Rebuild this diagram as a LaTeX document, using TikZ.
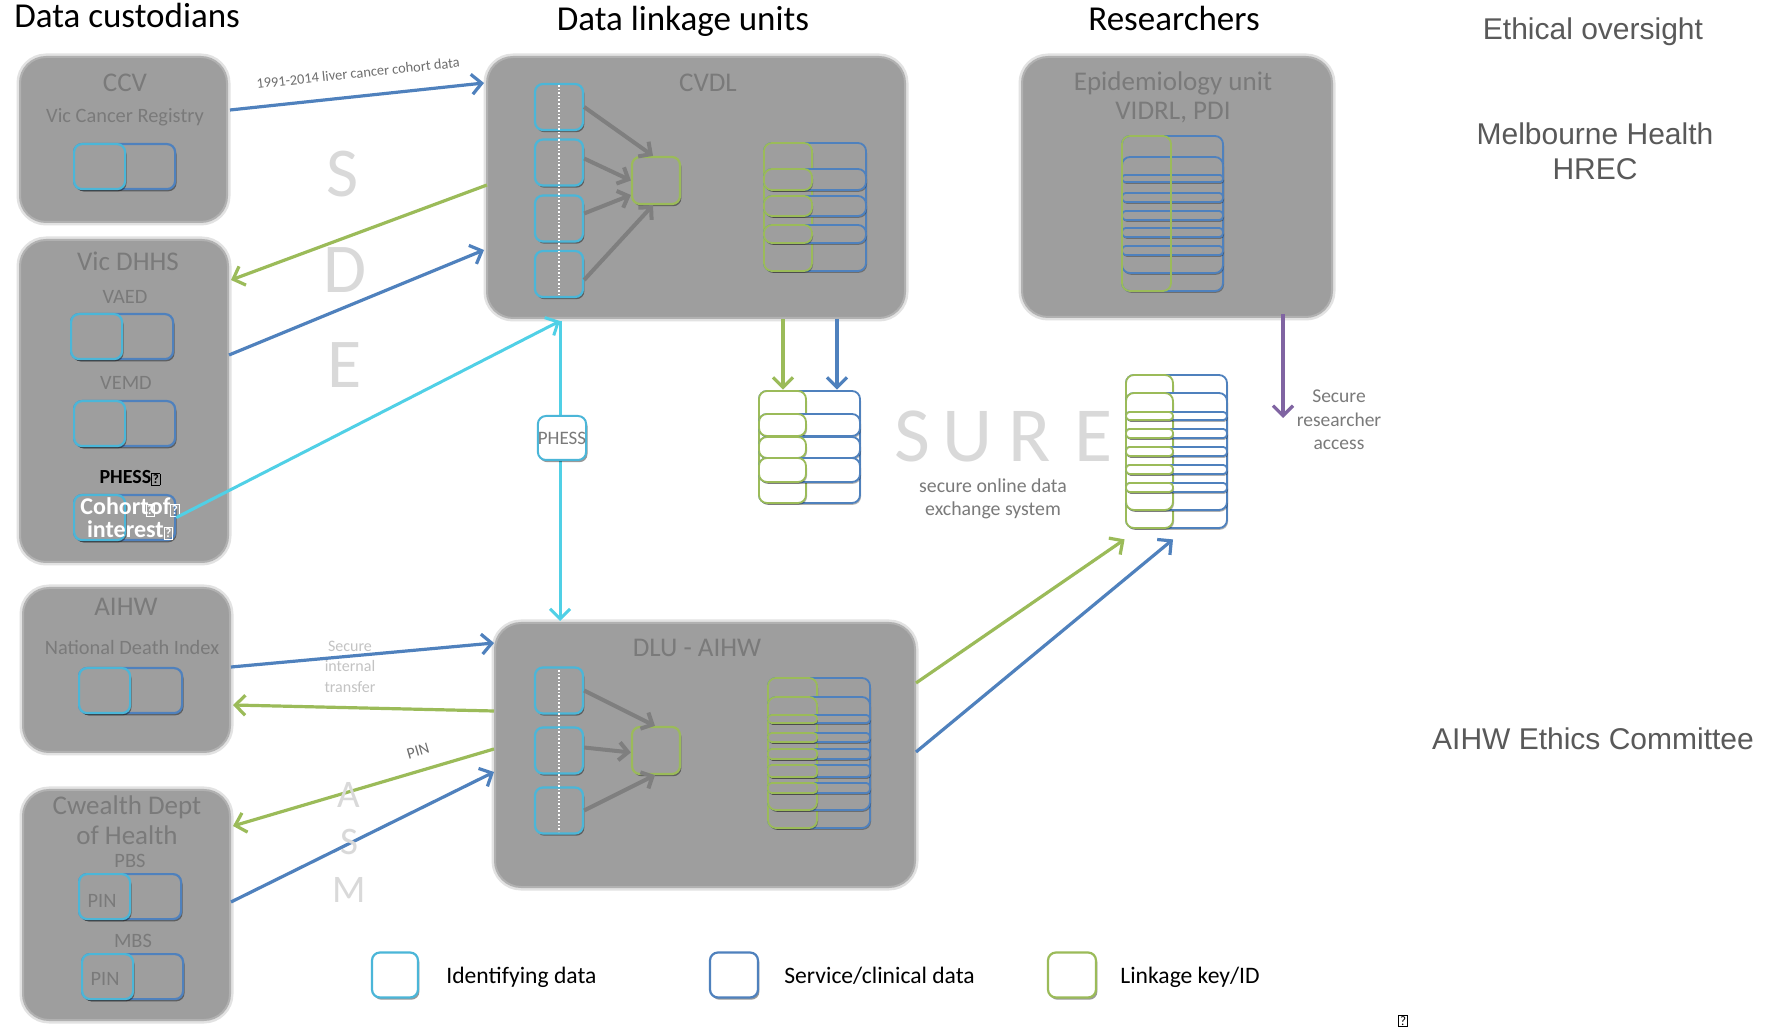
\documentclass[tikz,border=0pt]{standalone}
\usepackage{fontspec}
\setmainfont{Carlito}
\newfontfamily\arialf{Liberation Sans}
\usepackage{graphicx}
\usetikzlibrary{arrows.meta,shadows,calc}

\definecolor{boxgray}{HTML}{9E9E9E}
\definecolor{titlegray}{HTML}{7A7A7A}
\definecolor{cyanb}{HTML}{4BB6D8}
\definecolor{cyanl}{HTML}{50D0E6}
\definecolor{blueb}{HTML}{4F81BD}
\definecolor{greenb}{HTML}{9BBB59}
\definecolor{purpleb}{HTML}{8064A2}
\definecolor{lettergray}{HTML}{D9D9D9}
\definecolor{arrowgray}{HTML}{7F7F7F}
\definecolor{ethgray}{HTML}{595959}
\definecolor{lblgray}{HTML}{6E6E6E}
\definecolor{faintgray}{HTML}{C3C3C3}

\newcommand\fsz[2]{\fontsize{#1}{#2}\selectfont}
\newcommand\qbx{{\setlength\fboxsep{0.4pt}\setlength\fboxrule{0.4pt}\fbox{\fontsize{6.5}{7}\selectfont ?}}}

\tikzset{
 graybox/.style={rounded corners=13pt, fill=boxgray, draw=boxgray!80!white, line width=1pt, inner sep=0pt,
   preaction={draw=boxgray!30!white, line width=3.5pt}},
 shad/.style={drop shadow={shadow xshift=0.7pt, shadow yshift=-1.1pt, opacity=0.4, fill=black}},
 recblue/.style={draw=blueb, line width=1.1pt, fill=boxgray, rounded corners=4pt, inner sep=0pt, shad, anchor=north west, minimum height=22.5pt},
 reccyan/.style={draw=cyanb, line width=1.1pt, fill=boxgray, rounded corners=4pt, inner sep=0pt, shad, anchor=north west, minimum height=22.5pt, minimum width=25.5pt},
 idbox/.style={draw=cyanb, line width=1.1pt, fill=boxgray, rounded corners=4pt, inner sep=0pt, shad, minimum width=24pt, minimum height=23pt},
 keybox/.style={draw=greenb, line width=1.1pt, fill=boxgray, rounded corners=4pt, inner sep=0pt, shad, minimum width=24pt, minimum height=23.5pt},
 legbox/.style={line width=1.1pt, fill=white, rounded corners=4pt, inner sep=0pt, shad, minimum width=24pt, minimum height=22.5pt},
 tblue/.style={draw=blueb, line width=0.9pt, fill=#1, drop shadow={shadow xshift=0.5pt, shadow yshift=-0.9pt, opacity=0.3, fill=black}},
 tgreen/.style={draw=greenb, line width=0.9pt, fill=#1, drop shadow={shadow xshift=0.5pt, shadow yshift=-0.9pt, opacity=0.3, fill=black}},
 barrow/.style={draw=blueb, line width=1.6pt, -{Straight Barb[length=5pt,width=10pt]}},
 garrowc/.style={draw=greenb, line width=1.6pt, -{Straight Barb[length=5pt,width=10pt]}},
 carrow/.style={draw=cyanl, line width=1.5pt, -{Straight Barb[length=5pt,width=10pt]}},
 parrow/.style={draw=purpleb, line width=1.6pt, -{Straight Barb[length=5pt,width=10pt]}},
 grayarr/.style={draw=arrowgray, line width=2pt, -{Straight Barb[length=4.5pt,width=9pt]}},
 txt/.style={inner sep=0pt, anchor=base},
 ttl/.style={txt, text=titlegray, font=\fsz{13.5}{16}},
 sub/.style={txt, text=titlegray, font=\fsz{10.2}{12}},
 hdr/.style={txt, text=black, font=\fsz{17.5}{21}},
 eth/.style={txt, text=ethgray, font=\arialf\fsz{15}{18}},
 bigl/.style={txt, text=lettergray, font=\fsz{35}{40}},
 midl/.style={txt, text=lettergray, font=\fsz{19.5}{23}},
 surel/.style={txt, text=lettergray, font=\fsz{39}{44}},
}

\newcommand\datarec[4]{%
 \node[recblue, minimum width=#4] (#1) at (#2,#3) {};
 \node[reccyan] (#1c) at (#2,#3) {};}
\newcommand\trow[7]{%
 \draw[tblue=#1, rounded corners=#7] (#2,#5) rectangle (#4,#6);
 \draw[tgreen=#1, rounded corners=#7] (#2,#5) rectangle (#3,#6);}
\newcommand\brow[6]{%
 \draw[tblue=#1, rounded corners=#6] (#2,#4) rectangle (#3,#5);}

\begin{document}
\begin{tikzpicture}[x=0.5pt,y=-0.5pt]
\path[use as bounding box, fill=white] (0,0) rectangle (1779,1031);

% ---------------- gray boxes
\node[graybox, minimum width=103.5pt, minimum height=82.5pt] (ccv) at (123.5,139.5) {};
\node[graybox, minimum width=104pt, minimum height=161pt] (vic) at (124,401) {};
\node[graybox, minimum width=103.5pt, minimum height=82pt] (aihw) at (126.5,670) {};
\node[graybox, minimum width=103.5pt, minimum height=115pt] (cw) at (126.5,905) {};
\node[graybox, minimum width=209pt, minimum height=130.5pt] (cvdl) at (696,187.5) {};
\node[graybox, minimum width=210pt, minimum height=132pt] (dlu) at (705,755) {};
\node[graybox, minimum width=155pt, minimum height=130pt] (epi) at (1177,187) {};

% ---------------- titles
\node[ttl] (ccvT) at (125,92) {CCV};
\node[sub] (ccvS) at (125,123) {Vic Cancer Registry};
\node[ttl] (vicT) at (128,271) {Vic DHHS};
\node[sub] (vaedT) at (125,304) {VAED};
\node[sub] (vemdT) at (126,390) {VEMD};
\node[ttl] (cvdlT) at (708,92) {CVDL};
\node[ttl] (epiT1) at (1173,91) {Epidemiology unit};
\node[ttl] (epiT2) at (1173,120) {VIDRL, PDI};
\node[ttl] (aihwT) at (126,616) {AIHW};
\node[sub] (ndiT) at (132,655) {National Death Index};
\node[ttl] (cwT1) at (127,814) {Cwealth Dept};
\node[ttl] (cwT2) at (127,845) {of Health};
\node[sub] (pbsT) at (130,868) {PBS};
\node[sub] (mbsT) at (133,947) {MBS};
\node[ttl] (dluT) at (697,657) {DLU - AIHW};

% ---------------- records in custodian boxes
\datarec{rccv}{73}{143}{50.5pt}
\datarec{rvaed}{70}{313}{51pt}
\datarec{rvemd}{73}{400}{50.5pt}
\datarec{rcoh}{73}{494}{50.5pt}
\datarec{raihw}{78}{667}{51.5pt}
\datarec{rpbs}{78}{873}{51pt}
\datarec{rmbs}{81}{953}{50.5pt}
\node[sub] (pin1) at (102,907) {PIN};
\node[sub] (pin2) at (105,985) {PIN};
\node[txt, text=black, font=\bfseries\fsz{10}{12}] (phessL) at (130,484) {PHESS\qbx};
\node[txt, text=white, font=\bfseries\fsz{12}{14}] (cohL1) at (130,515) {Cohort\kern-1.5pt\qbx\kern-2.5pt of\qbx};
\node[txt, text=white, font=\bfseries\fsz{12}{14}] (cohL2) at (130,538) {interest\qbx};

% ---------------- CVDL content
\node[idbox] (c1) at (559,107) {};
\node[idbox] (c2) at (559,162.5) {};
\node[idbox] (c3) at (559,218.5) {};
\node[idbox] (c4) at (559,274) {};
\node[keybox] (g1) at (656,180.5) {};
\draw[white, line width=0.8pt, densely dotted] (559,85) -- (559,296);
\draw[grayarr] (c1.east) -- ($(g1.north)+(-3,0)$);
\draw[grayarr] ($(c2.east)+(0,-4)$) -- (g1.west);
\draw[grayarr] ($(c3.east)+(0,-5)$) -- ($(g1.west)+(0,14.5)$);
\draw[grayarr] ($(c4.east)+(0,6)$) -- ($(g1.south)+(-3,0)$);
\trow{boxgray}{764}{812}{866}{143}{271}{4pt}
\trow{boxgray}{764}{812}{866}{169}{190}{4pt}
\trow{boxgray}{764}{812}{866}{196}{216}{4pt}
\trow{boxgray}{764}{812}{866}{225}{243}{4pt}

% ---------------- DLU content
\node[idbox] (d1) at (559,690.5) {};
\node[idbox] (d2) at (559,750.5) {};
\node[idbox] (d3) at (559,810.5) {};
\node[keybox] (g2) at (656,750.5) {};
\draw[white, line width=0.8pt, densely dotted] (559,670) -- (559,832);
\draw[grayarr] (d1.east) -- ($(g2.north)+(-1,0)$);
\draw[grayarr] ($(d2.east)+(0,-3)$) -- ($(g2.west)+(0,2)$);
\draw[grayarr] (d3.east) -- ($(g2.south)+(-1,0)$);
\trow{boxgray}{768}{817}{870}{678}{828}{4pt}
\trow{boxgray}{768}{817}{870}{697}{810}{4pt}
\trow{boxgray}{768}{817}{870}{715}{723}{1.8pt}
\trow{boxgray}{768}{817}{870}{733}{742}{1.8pt}
\trow{boxgray}{768}{817}{870}{749}{759}{1.8pt}
\trow{boxgray}{768}{817}{870}{765}{777}{1.8pt}
\trow{boxgray}{768}{817}{870}{783}{793}{1.8pt}

% ---------------- Epi content
\brow{boxgray}{1122}{1223}{136}{291}{4pt}
\brow{boxgray}{1122}{1223}{157}{273}{4pt}
\brow{boxgray}{1122}{1223}{175}{182}{1.5pt}
\brow{boxgray}{1122}{1223}{193}{202}{1.8pt}
\brow{boxgray}{1122}{1223}{211}{220}{1.8pt}
\brow{boxgray}{1122}{1223}{228}{237}{1.8pt}
\brow{boxgray}{1122}{1223}{246}{255}{1.8pt}
\draw[greenb, line width=0.9pt, rounded corners=4pt] (1122,136) rectangle (1171,291);

% ---------------- SURE tables
\node[inner sep=0pt, minimum width=50.5pt, minimum height=56pt] (suremid) at (809.5,447) {};
\trow{white}{759}{806}{860}{391}{503}{4pt}
\trow{white}{759}{806}{860}{414}{436}{4pt}
\trow{white}{759}{806}{860}{437}{458}{4pt}
\trow{white}{759}{806}{860}{458}{482}{4pt}
\node[inner sep=0pt, minimum width=50.5pt, minimum height=76.5pt] (surer) at (1176.5,451.5) {};
\trow{white}{1126}{1173}{1227}{375}{528}{4pt}
\trow{white}{1126}{1173}{1227}{393}{510}{4pt}
\trow{white}{1126}{1173}{1227}{412}{420}{1.8pt}
\trow{white}{1126}{1173}{1227}{429}{438}{1.8pt}
\trow{white}{1126}{1173}{1227}{447}{456}{1.8pt}
\trow{white}{1126}{1173}{1227}{465}{474}{1.8pt}
\trow{white}{1126}{1173}{1227}{483}{492}{1.8pt}

% ---------------- connectors
\draw[barrow] ($(ccv.east)+(2,-29.5)$) -- ($(cvdl.west)+(-2,-104.5)$);
\draw[garrowc] ($(cvdl.west)+(1,-2.5)$) -- ($(vic.east)+(2,-121)$);
\draw[barrow] ($(vic.east)+(0,-46)$) -- ($(cvdl.west)+(-2,62.5)$);
\draw[carrow] (rcoh.east) -- ($(cvdl.south)+(-136,2)$);
\draw[carrow] ($(cvdl.south)+(-136,2)$) -- ($(dlu.north)+(-145,-1)$);
\draw[garrowc] ($(cvdl.south)+(87,0)$) -- ($(suremid.north)+(-26.5,-1)$);
\draw[barrow] ($(cvdl.south)+(141,0)$) -- ($(suremid.north)+(27.5,-1)$);
\draw[barrow] ($(aihw.east)+(0,-3)$) -- ($(dlu.west)+(0,-112)$);
\draw[garrowc] ($(dlu.west)+(0,-44)$) -- ($(aihw.east)+(2,35)$);
\draw[garrowc] ($(dlu.west)+(0,-6)$) -- ($(cw.east)+(2,-79)$);
\draw[barrow] ($(cw.east)+(0,-3)$) -- ($(dlu.west)+(0,17)$);
\draw[garrowc] ($(dlu.east)+(0,-72)$) -- ($(surer.south west)+(-1,11)$);
\draw[barrow] ($(dlu.east)+(0,-3)$) -- ($(surer.south)+(-3.5,11)$);
\coordinate (pend) at (1283,418);
\draw[parrow] ($(epi.south)+(106,-4)$) -- (pend);

% PHESS box on the cyan line
\node[draw=cyanb, line width=1pt, fill=white, rounded corners=4pt, inner sep=0pt,
      minimum width=24pt, minimum height=22pt, shad, text=titlegray, font=\fsz{9.5}{11}] (phessbox) at (562,438) {PHESS};

% ---------------- connector labels
\node[inner sep=0pt, rotate=6, text=lblgray, font=\fsz{7.2}{9}] (lbl1991) at (358,73) {1991-2014 liver cancer cohort data};
\node[txt, text=faintgray, font=\fsz{8}{10}] (sit1) at (350,652) {Secure};
\node[txt, text=faintgray, font=\fsz{8}{10}] (sit2) at (350,672) {internal};
\node[txt, text=faintgray, font=\fsz{8}{10}] (sit3) at (350,693) {transfer};
\node[inner sep=0pt, rotate=16.3, text=lblgray, font=\fsz{8}{10}] (pinlbl) at (418,751) {PIN};

% ---------------- big faint letters
\node[bigl] (bS) at (343,197) {S};
\node[bigl] (bD) at (345,293) {D};
\node[bigl] (bE) at (345,388) {E};
\node[midl] (mA) at (349,808) {A};
\node[midl] (mS) at (349,855) {S};
\node[midl] (mM) at (349,902) {M};
\node[surel] (sS) at (912,462) {S};
\node[surel] (sU) at (968,462) {U};
\node[surel] (sR) at (1030,462) {R};
\node[surel] (sE) at (1094,462) {E};
\node[txt, text=titlegray, font=\fsz{9.9}{12}] (sod1) at (993,493) {secure online data};
\node[txt, text=titlegray, font=\fsz{9.9}{12}] (sod2) at (993,516) {exchange system};
\node[txt, text=titlegray, font=\fsz{9.75}{12}] (sra1) at (1339,403) {Secure};
\node[txt, text=titlegray, font=\fsz{9.75}{12}] (sra2) at (1339,427) {researcher};
\node[txt, text=titlegray, font=\fsz{9.75}{12}] (sra3) at (1339,450) {access};

% ---------------- headers
\node[hdr, anchor=base west] (hdc) at (14,28) {Data custodians};
\node[hdr] (hdl) at (683,31) {Data linkage units};
\node[hdr] (hres) at (1174,31) {Researchers};
\node[eth] (heth) at (1593,40) {Ethical oversight};
\node[eth] (hmel1) at (1595,145) {Melbourne Health};
\node[eth] (hmel2) at (1595,180) {HREC};
\node[eth] (haec) at (1593,750) {AIHW Ethics Committee};

% ---------------- legend
\node[legbox, draw=cyanb, minimum width=23pt] (lg1) at (395,975) {};
\node[legbox, draw=blueb] (lg2) at (734,975) {};
\node[legbox, draw=greenb] (lg3) at (1072,975) {};
\node[txt, anchor=base west, font=\fsz{11.8}{14}] (lt1) at (446,983) {Identifying data};
\node[txt, anchor=base west, font=\fsz{11.8}{14}] (lt2) at (784,983) {Service/clinical data};
\node[txt, anchor=base west, font=\fsz{11.8}{14}] (lt3) at (1120,983) {Linkage key/ID};
\node[inner sep=0pt, font=\fsz{10}{11}] (stray) at (1403,1021) {\qbx};
\end{tikzpicture}
\end{document}
